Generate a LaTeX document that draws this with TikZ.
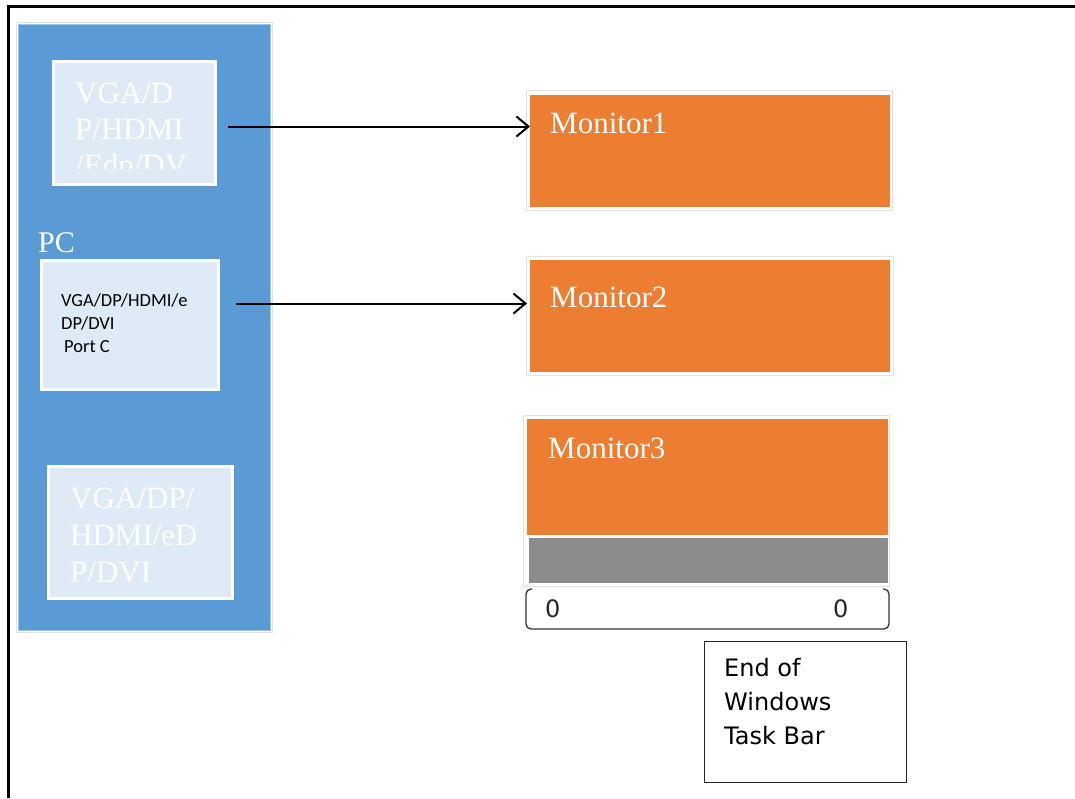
\documentclass[tikz,border=0pt]{standalone}
\usepackage{fontspec}
\setmainfont{Liberation Serif}
\newfontfamily\portfont{Carlito}
\newfontfamily\notefont{DejaVu Sans}
\usetikzlibrary{arrows.meta}

\definecolor{pcblue}{HTML}{5B9BD5}
\definecolor{portfill}{HTML}{DEEBF7}
\definecolor{monorange}{HTML}{ED7D31}
\definecolor{barGray}{HTML}{8C8C8C}
\definecolor{edgeGray}{HTML}{E2E2E2}

\tikzset{
  box/.style={rectangle, inner sep=0pt, anchor=north west},
  frameline/.style={box, draw=edgeGray, line width=1pt, fill=white},
  portbox/.style={box, fill=portfill, draw=white, line width=3pt},
  monbox/.style={box, fill=monorange},
  serifwhite/.style={inner sep=0pt, anchor=base west, text=white, font=\fontsize{31}{36}\selectfont},
  monlabel/.style={inner sep=0pt, anchor=base west, text=white, font=\fontsize{31}{35}\selectfont},
  portlabel/.style={inner sep=0pt, anchor=base west, text=black, font=\portfont\fontsize{18.5}{22}\selectfont},
  notelabel/.style={inner sep=0pt, anchor=base west, text=black, font=\notefont\fontsize{24}{34}\selectfont},
  zerolabel/.style={inner sep=0pt, anchor=base west, text=black!85, font=\notefont\fontsize{24}{28}\selectfont},
  link/.style={line width=2pt, -{Straight Barb[length=12pt,width=20pt,line width=2pt]}}
}

\begin{document}
\begin{tikzpicture}[x=1pt,y=-1pt]
\useasboundingbox (0,0) rectangle (1075,798);

% page frame (top and left edges)
\draw[line width=3pt] (8.5,798) -- (8.5,6.5) -- (1075,6.5);

% PC enclosure
\node[frameline, minimum width=256pt, minimum height=610pt] (pcframe) at (16,22) {};
\node[box, fill=pcblue, draw=pcblue!60!white, line width=0.8pt,
      minimum width=252pt, minimum height=606pt] (pc) at (18,24) {};
\node[inner sep=0pt, anchor=base west, text=white, font=\fontsize{30}{34}\selectfont] (pclabel) at (38,252) {PC};

% upper port
\node[portbox, minimum width=162pt, minimum height=123pt] (b1) at (52,60) {};
\begin{scope}
  \clip (52,60) rectangle (214,168);
  \foreach \t [count=\i] in {VGA/D,P/HDMI,/Edp/DV}
    \node[serifwhite] (b1l\i) at (75,{103+36*(\i-1)}) {\t};
\end{scope}

% middle port
\node[portbox, minimum width=177pt, minimum height=129pt] (b2) at (40,259) {};
\node[portlabel] (b2l1) at (61,306) {VGA/DP/HDMI/e};
\node[portlabel] (b2l2) at (61,329) {DP/DVI};
\node[portlabel] (b2l3) at (64,352) {Port C};

% lower port
\node[portbox, minimum width=184pt, minimum height=132pt] (b3) at (47,465) {};
\foreach \t [count=\i] in {VGA/DP/,HDMI/eD,P/DVI}
  \node[serifwhite] (b3l\i) at (70,{508+37*(\i-1)}) {\t};

% monitors
\node[frameline, minimum width=366pt, minimum height=120pt] (m1frame) at (526,90) {};
\node[monbox, minimum width=360pt, minimum height=112pt] (m1) at (530,95) {};
\node[monlabel] (m1l) at (550,133) {Monitor1};

\node[frameline, minimum width=367pt, minimum height=119pt] (m2frame) at (526,256) {};
\node[monbox, minimum width=360pt, minimum height=112pt] (m2) at (530,260) {};
\node[monlabel] (m2l) at (550,307) {Monitor2};

\node[frameline, minimum width=366pt, minimum height=171pt] (m3frame) at (523,415) {};
\node[monbox, minimum width=361pt, minimum height=116pt] (m3) at (527,419) {};
\node[box, fill=barGray, minimum width=359pt, minimum height=45pt] (bar) at (529,538) {};
\node[monlabel] (m3l) at (548,458) {Monitor3};

% task bar span bracket
\draw[black!80, line width=1.3pt, rounded corners=5pt]
  (532,589) -- (526,589) -- (526,629) -- (889,629) -- (889,589) -- (883,589);
\node[zerolabel] (z1) at (545,617) {0};
\node[zerolabel] (z2) at (833,617) {0};

% note box
\node[box, draw=black!85, line width=1.2pt, minimum width=202pt, minimum height=141pt] (note) at (704,641) {};
\node[notelabel] (n1) at (724,676) {End of};
\node[notelabel] (n2) at (724,710) {Windows};
\node[notelabel] (n3) at (724,744) {Task Bar};

% connections
\draw[link] ([xshift=11pt,yshift=-3.5pt]b1.east) -- ([yshift=-3.5pt]b1.east -| m1.west);
\draw[link] ([xshift=16pt,yshift=21.5pt]b2.east) -- ([xshift=-3pt,yshift=21.5pt]b2.east -| m2.west);
\end{tikzpicture}
\end{document}
